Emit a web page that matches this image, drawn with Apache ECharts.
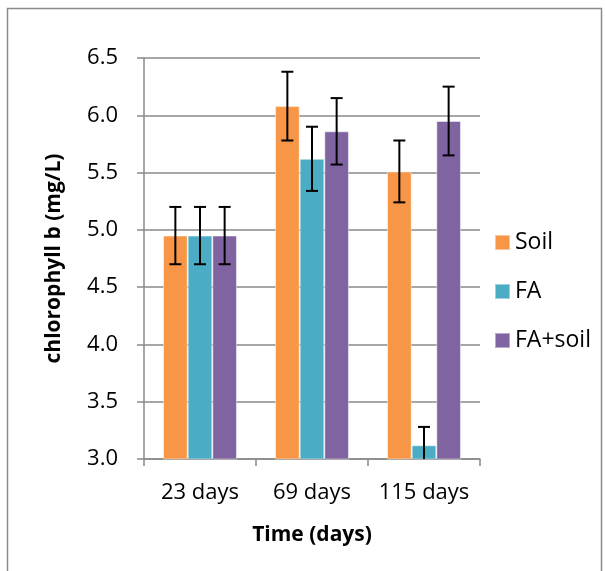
<!DOCTYPE html>
<html>
<head>
<meta charset="utf-8">
<script src="https://cdn.jsdelivr.net/npm/echarts@6/dist/echarts.min.js"></script>
<style>html,body{margin:0;padding:0;background:#fff}#c{width:605px;height:571px}</style>
</head>
<body>
<div id="c"></div>
<script>
const categories = ['23 days', '69 days', '115 days'];
const seriesNames = ['Soil', 'FA', 'FA+soil'];
const soil = [4.95, 6.08, 5.51];
const soilErr = [0.25, 0.30, 0.27];
const fa = [4.95, 5.62, 3.12];
const faErr = [0.25, 0.28, 0.16];
const faSoil = [4.95, 5.86, 5.95];
const faSoilErr = [0.25, 0.29, 0.30];
const yTicks = [3.0, 3.5, 4.0, 4.5, 5.0, 5.5, 6.0, 6.5];
const colors = ['#F79646', '#4BACC6', '#8064A2'];

const FONT = 'Open Sans';
const GAP = 0.34;
const values = [soil, fa, faSoil];
const errs = [soilErr, faErr, faSoilErr];

const chart = echarts.init(document.getElementById('c'), null, {renderer: 'canvas'});

function errSeries(si) {
  const data = categories.map((c, i) => [i, values[si][i], errs[si][i]]);
  return {
    type: 'custom',
    name: seriesNames[si] + ' err',
    clip: true,
    z: 10,
    silent: true,
    renderItem: function (params, api) {
      const idx = api.value(0);
      const v = api.value(1);
      const e = api.value(2);
      const band = api.size([1, 0])[0];
      const bw = band * (1 - GAP) / 3;
      const cx = api.coord([idx, v])[0] + (si - 1) * bw;
      const yTop = api.coord([idx, v + e])[1];
      const yBot = api.coord([idx, v - e])[1];
      const cap = 6;
      const st = {stroke: '#000', lineWidth: 2};
      return {
        type: 'group',
        children: [
          {type: 'line', shape: {x1: cx, y1: yTop, x2: cx, y2: yBot}, style: st},
          {type: 'line', shape: {x1: cx - cap, y1: yTop, x2: cx + cap, y2: yTop}, style: st},
          {type: 'line', shape: {x1: cx - cap, y1: yBot, x2: cx + cap, y2: yBot}, style: st}
        ]
      };
    },
    data: data
  };
}

const barSeries = seriesNames.map((n, si) => ({
  type: 'bar',
  name: n,
  data: values[si],
  barGap: '0%',
  barCategoryGap: (GAP * 100) + '%',
  itemStyle: {color: colors[si], borderColor: 'rgba(255,255,255,0.45)', borderWidth: 1}
}));

chart.setOption({
  animation: false,
  color: colors,
  textStyle: {fontFamily: FONT},
  grid: {left: 144, right: 125, top: 58, bottom: 112, containLabel: false},
  graphic: [{
    type: 'rect',
    shape: {x: 7.5, y: 8.5, width: 594, height: 620},
    style: {fill: 'none', stroke: '#8a8a8a', lineWidth: 1.5},
    silent: true
  }],
  legend: {
    orient: 'vertical',
    left: 489,
    top: 226,
    itemWidth: 15,
    itemHeight: 15,
    itemGap: 26,
    icon: 'rect',
    data: seriesNames,
    textStyle: {fontFamily: FONT, fontSize: 23, color: '#000', padding: [0, 0, 0, 0]}
  },
  xAxis: {
    type: 'category',
    data: categories,
    name: 'Time (days)',
    nameLocation: 'middle',
    nameGap: 66,
    nameTextStyle: {fontFamily: FONT, fontSize: 21, fontWeight: 'bold', color: '#000'},
    axisLine: {lineStyle: {color: '#8a8a8a', width: 1.5}},
    axisTick: {show: true, length: 7, lineStyle: {color: '#8a8a8a', width: 1.5}},
    axisLabel: {interval: 0, fontFamily: FONT, fontSize: 22, color: '#000', margin: 23},
    splitLine: {show: false}
  },
  yAxis: {
    type: 'value',
    min: yTicks[0],
    max: yTicks[yTicks.length - 1],
    interval: 0.5,
    name: 'chlorophyll b (mg/L)',
    nameLocation: 'middle',
    nameGap: 79,
    nameTextStyle: {fontFamily: FONT, fontSize: 21, fontWeight: 'bold', color: '#000'},
    axisLine: {show: true, lineStyle: {color: '#8a8a8a', width: 1.5}},
    axisTick: {show: true, length: 7, lineStyle: {color: '#8a8a8a', width: 1.5}},
    axisLabel: {fontFamily: FONT, fontSize: 22, color: '#000', margin: 26,
      formatter: v => v.toFixed(1)},
    splitLine: {show: true, lineStyle: {color: '#8a8a8a', width: 1.5}}
  },
  series: barSeries.concat([0, 1, 2].map(errSeries))
});
</script>
</body>
</html>
